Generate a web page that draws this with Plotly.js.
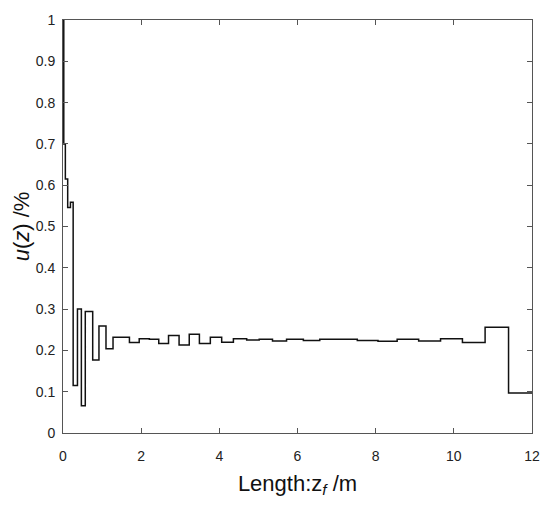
<!DOCTYPE html>
<html>
<head>
<meta charset="utf-8">
<script src="https://cdn.plot.ly/plotly-3.0.1.min.js"></script>
<style>
  body { margin: 0; background: #fff; }
  #chart { width: 550px; height: 512px; }
</style>
</head>
<body>
<div id="chart"></div>
<script>
// step edges (m) and the value on each step
let zEdges = [0, 0.02, 0.06, 0.12, 0.19, 0.26, 0.37, 0.47, 0.57, 0.76, 0.92, 1.10, 1.28,
              1.70, 1.95, 2.21, 2.45, 2.70, 2.97, 3.23, 3.49, 3.77, 4.06, 4.36, 4.70,
              5.02, 5.36, 5.72, 6.15, 6.57, 7.53, 8.06, 8.55, 9.10, 9.66, 10.22, 10.80,
              11.40, 12];
let uVals = [1.0, 0.70, 0.615, 0.546, 0.559, 0.115, 0.300, 0.066, 0.294, 0.177, 0.259, 0.204, 0.232,
             0.219, 0.228, 0.227, 0.217, 0.236, 0.213, 0.239, 0.217, 0.232, 0.220, 0.228, 0.225,
             0.227, 0.223, 0.227, 0.224, 0.227, 0.224, 0.222, 0.227, 0.223, 0.228, 0.219, 0.256,
             0.097, 0.097];

let xTicks = [0, 2, 4, 6, 8, 10, 12];
let yTicks = [0, 0.1, 0.2, 0.3, 0.4, 0.5, 0.6, 0.7, 0.8, 0.9, 1];
let yTickText = ['0', '0.1', '0.2', '0.3', '0.4', '0.5', '0.6', '0.7', '0.8', '0.9', '1'];

let font = 'Arial, "Liberation Sans", sans-serif';

let layout = {
    width: 550,
    height: 512,
    margin: {l: 63, r: 18, t: 20, b: 79},
    paper_bgcolor: '#fff',
    plot_bgcolor: '#fff',
    showlegend: false,
    font: {family: font, size: 14, color: '#222'},
    xaxis: {
        range: [0, 12],
        tickvals: xTicks,
        ticks: 'inside',
        ticklen: 5,
        tickcolor: '#555',
        showline: true,
        linecolor: '#555',
        linewidth: 1,
        mirror: 'ticks',
        showgrid: false,
        zeroline: false,
        tickfont: {size: 14},
        ticklabelstandoff: 10,
        title: {text: 'Length:z<sub><i>f</i></sub> /m', font: {size: 22, color: '#111'}, standoff: 12}
    },
    yaxis: {
        range: [0, 1],
        tickvals: yTicks,
        ticktext: yTickText,
        ticks: 'inside',
        ticklen: 5,
        tickcolor: '#555',
        showline: true,
        linecolor: '#555',
        linewidth: 1,
        mirror: 'ticks',
        showgrid: false,
        zeroline: false,
        tickfont: {size: 14},
        ticklabelstandoff: 4,
        title: {text: '<i>u</i>(<i>z</i>) /%', font: {size: 22, color: '#111'}, standoff: 0}
    }
};

Plotly.newPlot(
    'chart',
    [{
        mode: 'lines',
        type: 'scatter',
        x: zEdges,
        y: uVals,
        line: {shape: 'hv', color: '#111', width: 1.5}
    }],
    layout,
    {staticPlot: true}
);
</script>
</body>
</html>
